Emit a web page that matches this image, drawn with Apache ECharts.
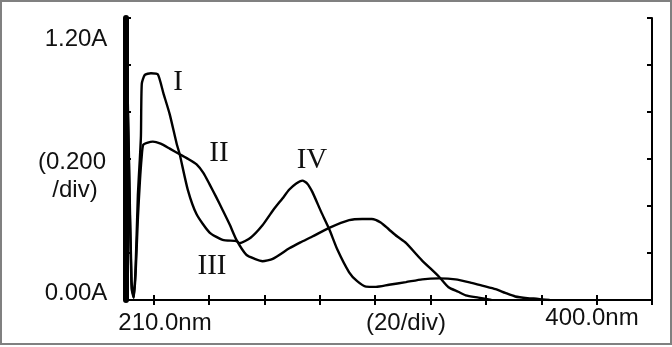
<!DOCTYPE html>
<html>
<head>
<meta charset="utf-8">
<title>spectrum</title>
<script src="https://cdn.jsdelivr.net/npm/echarts@6/dist/echarts.min.js"></script>
<style>
    html, body { margin: 0; padding: 0; background: #fff; }
    #chart1 { width: 672px; height: 347px; }
</style>
</head>
<body>
<div id="chart1"></div>
<script>
// curve I / IV
var nmA = [210, 211, 212, 212.8, 213.5, 214.3, 215, 215.4, 215.7, 216.8, 219, 221.5, 223.5, 225.8, 228.3, 229.4, 232.3, 235.5, 240.2, 244.9, 249.9, 251, 255, 259.3, 263, 266.5, 269, 271.5, 273.7, 275.5, 277.3, 280.5, 283.4, 286.3, 290.6, 293.5, 296.7, 300.3, 305, 311.1, 317, 323, 329, 334.8, 339, 343.5, 347, 350.6, 355, 358.9, 363];
var absA = [1.2, 0.65, 0.08, 0.01, 0.15, 0.45, 0.6, 0.7, 0.92, 0.958, 0.965, 0.96, 0.88, 0.79, 0.665, 0.62, 0.47, 0.365, 0.287, 0.256, 0.251, 0.242, 0.265, 0.318, 0.38, 0.432, 0.47, 0.496, 0.508, 0.495, 0.46, 0.375, 0.302, 0.216, 0.118, 0.08, 0.057, 0.056, 0.065, 0.076, 0.088, 0.092, 0.088, 0.073, 0.06, 0.046, 0.03, 0.015, 0.008, 0.005, 0.0];
// curve II / III
var nmB = [210, 211, 212, 212.8, 213.5, 214.3, 215, 215.6, 216.2, 217.9, 219.7, 222.5, 225.8, 229.4, 232.5, 235.5, 238, 240.2, 242.5, 244.9, 247.5, 249.9, 253.5, 256.5, 259.3, 263, 269, 273, 277.3, 283.4, 290.6, 295.3, 298.8, 302, 305, 308, 311.1, 316.8, 323, 326.5, 330, 332.7, 337.3, 342];
var absB = [1.2, 0.6, 0.05, 0.01, 0.12, 0.35, 0.5, 0.6, 0.66, 0.67, 0.674, 0.665, 0.644, 0.62, 0.6, 0.577, 0.54, 0.492, 0.44, 0.383, 0.32, 0.256, 0.192, 0.175, 0.165, 0.175, 0.22, 0.245, 0.27, 0.307, 0.34, 0.345, 0.345, 0.33, 0.3, 0.27, 0.243, 0.17, 0.1, 0.054, 0.035, 0.02, 0.01, 0];
// tick positions
var xTicks = [220, 240, 260, 280, 300, 320, 340, 360, 380, 400];
var xRange = [210, 400];
var yRange = [0, 1.2];

// tiny helper in place of jQuery's extend
var $ = {
    extend: function (a, b) {
        for (var key in b) {
            a[key] = b[key];
        }
        return a;
    }
};

var index = {
    init: function () {
        var mychart = echarts.init(document.getElementById("chart1"));
        this.chart = mychart;
        this.loadchart();
    },
    pairs: function (xs, ys) {
        return xs.map(function (v, i) {
            return [v, ys[i]];
        });
    },
    loadchart: function () {
        var axisLine = { show: true, lineStyle: { color: "#000", width: 2 } };
        var tick = { show: true, inside: true, length: 5, lineStyle: { color: "#000", width: 2 } };
        var text = function (x, y, s, font, size) {
            return {
                type: 'text',
                x: x,
                y: y,
                style: {
                    text: s,
                    fill: "#111",
                    font: size + "px " + font,
                    align: 'center',
                    verticalAlign: 'middle'
                }
            };
        };
        var sans = "'Liberation Sans', Arial, sans-serif";
        var serif = "'Liberation Serif', 'Times New Roman', serif";
        var line = {
            type: 'line',
            showSymbol: false,
            smooth: 0.2,
            silent: true,
            lineStyle: { color: "#000", width: 2.4 }
        };
        var option = {
            backgroundColor: "#fff",
            animation: false,
            grid: { left: 126, right: 20, top: 18, bottom: 47 },
            xAxis: [
                {
                    type: 'value',
                    position: 'bottom',
                    min: xRange[0],
                    max: xRange[1],
                    axisLine: axisLine,
                    axisTick: $.extend({ customValues: xTicks }, tick),
                    axisLabel: { show: false },
                    splitLine: { show: false }
                },
                {
                    type: 'value',
                    position: 'top',
                    min: xRange[0],
                    max: xRange[1],
                    axisLine: axisLine,
                    axisTick: $.extend({ customValues: xTicks }, tick),
                    axisLabel: { show: false },
                    splitLine: { show: false }
                }
            ],
            yAxis: [
                {
                    type: 'value',
                    position: 'left',
                    min: yRange[0],
                    max: yRange[1],
                    interval: 0.2,
                    axisLine: { show: true, lineStyle: { color: "#000", width: 6 } },
                    axisTick: tick,
                    axisLabel: { show: false },
                    splitLine: { show: false }
                },
                {
                    type: 'value',
                    position: 'right',
                    min: yRange[0],
                    max: yRange[1],
                    interval: 0.2,
                    axisLine: axisLine,
                    axisTick: tick,
                    axisLabel: { show: false },
                    splitLine: { show: false }
                }
            ],
            graphic: [
                { type: 'rect', shape: { x: 1, y: 1, width: 670, height: 343 }, style: { fill: null, stroke: "#808080", lineWidth: 2 } },
                text(76, 39, "1.20A", sans, 24),
                text(72, 162, "(0.200", sans, 24),
                text(75, 190, "/div)", sans, 24),
                text(76, 293, "0.00A", sans, 24),
                text(165, 323, "210.0nm", sans, 24),
                text(406, 323, "(20/div)", sans, 24),
                text(592, 318, "400.0nm", sans, 24),
                text(178, 82, "I", serif, 29),
                text(219, 153, "II", serif, 29),
                text(312, 160, "IV", serif, 29),
                text(212, 266, "III", serif, 29)
            ],
            series: [
                $.extend({ data: this.pairs(nmA, absA) }, line),
                $.extend({ data: this.pairs(nmB, absB) }, line)
            ]
        };
        this.chart.setOption(option);
    }
};

window.onload = function () {
    index.init();
};
</script>
</body>
</html>
